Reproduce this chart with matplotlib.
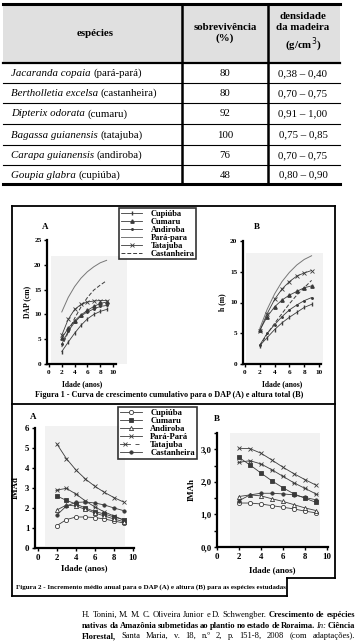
import matplotlib
matplotlib.use("Agg")
import matplotlib.pyplot as plt
from matplotlib.font_manager import FontProperties
from matplotlib.lines import Line2D
from matplotlib.patches import Rectangle
from matplotlib.legend_handler import HandlerTuple

# ---- table data ----
especies = ["Jacaranda copaia", "Bertholletia excelsa", "Dipterix odorata",
            "Bagassa guianensis", "Carapa guianensis", "Goupia glabra"]
nomes = ["(pará-pará)", "(castanheira)", "(cumaru)", "(tatajuba)", "(andiroba)", "(cupiúba)"]
sobrevivencia = [80, 80, 92, 100, 76, 48]
densidade = ["0,38 – 0,40", "0,70 – 0,75", "0,91 – 1,00", "0,75 – 0,85", "0,70 – 0,75", "0,80 – 0,90"]

# ---- figure data (idade em anos) ----
anos = [2, 3, 4, 5, 6, 7, 8, 9]
series = ["Cupiúba", "Cumaru", "Andiroba", "Pará-para", "Tatajuba", "Castanheira"]

# Figura 1A - DAP (cm)
dap_cupiuba = [2.5, 4.4, 6.2, 7.8, 9.1, 10.0, 10.6, 11.0]
dap_cumaru = [5.2, 7.2, 8.7, 9.9, 10.8, 11.6, 12.2, 12.5]
dap_andiroba = [4.0, 6.6, 8.4, 9.7, 10.5, 11.1, 11.6, 11.8]
dap_parapara = [10.5, 13.4, 15.6, 17.3, 18.6, 19.6, 20.4, 20.9]
dap_tatajuba = [5.8, 9.0, 11.0, 12.0, 12.5, 12.7, 12.8, 12.8]
dap_castanheira = [3.4, 6.4, 9.2, 11.5, 13.4, 14.9, 15.9, 16.8]

# Figura 1B - h (m)
h_cupiuba = [3.0, 4.3, 5.6, 6.7, 7.6, 8.4, 9.2, 9.7]
h_cumaru = [5.5, 7.7, 9.3, 10.4, 11.2, 11.8, 12.4, 12.7]
h_andiroba = [3.1, 5.0, 6.4, 7.7, 8.8, 9.6, 10.3, 10.8]
h_parapara = [5.8, 8.9, 11.4, 13.4, 14.9, 16.1, 17.0, 17.6]
h_tatajuba = [5.4, 8.2, 10.5, 12.2, 13.4, 14.3, 14.8, 15.2]
h_castanheira = [2.9, 4.9, 6.6, 8.2, 9.8, 11.2, 12.4, 13.6]

# Figura 2A - IMAd
imad_cupiuba = [1.12, 1.42, 1.55, 1.55, 1.52, 1.45, 1.35, 1.25]
imad_cumaru = [2.6, 2.38, 2.2, 2.0, 1.82, 1.7, 1.55, 1.42]
imad_andiroba = [1.9, 2.15, 2.1, 1.93, 1.75, 1.6, 1.45, 1.32]
imad_parapara = [5.2, 4.47, 3.9, 3.45, 3.08, 2.78, 2.52, 2.3]
imad_tatajuba = [2.9, 2.98, 2.7, 2.35, 2.05, 1.8, 1.6, 1.4]
imad_castanheira = [1.65, 2.1, 2.28, 2.3, 2.25, 2.15, 2.0, 1.87]

# Figura 2B - IMAh
imah_cupiuba = [1.35, 1.35, 1.32, 1.27, 1.22, 1.17, 1.1, 1.05]
imah_cumaru = [2.75, 2.52, 2.27, 2.03, 1.82, 1.63, 1.5, 1.37]
imah_andiroba = [1.55, 1.6, 1.57, 1.48, 1.4, 1.3, 1.2, 1.12]
imah_parapara = [3.03, 3.02, 2.88, 2.67, 2.45, 2.25, 2.07, 1.9]
imah_tatajuba = [2.6, 2.65, 2.55, 2.37, 2.17, 1.97, 1.8, 1.63]
imah_castanheira = [1.42, 1.6, 1.65, 1.65, 1.63, 1.6, 1.52, 1.45]

W, H = 357, 644
SERIF = "Liberation Serif"

fig = plt.figure(figsize=(W / 100, H / 100), dpi=100)
renderer = fig.canvas.get_renderer()


def fx(x):
    return x / W


def fy(y):
    return 1 - y / H


def fp(size, weight="normal", style="normal"):
    return FontProperties(family=SERIF, size=size, weight=weight, style=style)


def hline(y, x0, x1, lw=1.0, color="black"):
    fig.add_artist(Line2D([fx(x0), fx(x1)], [fy(y), fy(y)], color=color, lw=lw,
                          transform=fig.transFigure))


def vline(x, y0, y1, lw=1.0, color="black"):
    fig.add_artist(Line2D([fx(x), fx(x)], [fy(y0), fy(y1)], color=color, lw=lw,
                          transform=fig.transFigure))


def rect(x0, y0, x1, y1, color):
    fig.add_artist(Rectangle((fx(x0), fy(y1)), (x1 - x0) / W, (y1 - y0) / H,
                             facecolor=color, edgecolor="none",
                             transform=fig.transFigure, zorder=0))


def text_px(x, y, s, size, weight="normal", style="normal", **kw):
    return fig.text(fx(x), fy(y), s, fontproperties=fp(size, weight, style), **kw)


def width_px(s, prop):
    t = fig.text(0, 0, s, fontproperties=prop)
    w = t.get_window_extent(renderer).width
    t.remove()
    return w


def justified(segments, x0, x1, y, size):
    # spread words so the line fills x0..x1, like the justified print source
    words = []
    for s, weight, style in segments:
        for w in s.split(" "):
            words.append((w, fp(size, weight, style)))
    widths = [width_px(w, p) for w, p in words]
    gap = max((x1 - x0 - sum(widths)) / (len(words) - 1), 1.0)
    x = x0
    for (w, p), wd in zip(words, widths):
        fig.text(fx(x), fy(y), w, fontproperties=p, va="center", ha="left")
        x += wd + gap


# ---------------- table ----------------
rect(3, 4, 340, 63, "#e0e0e0")
hline(4, 3, 340, lw=2.2)
hline(63, 3, 340, lw=1.6)
row_edges = [63, 83, 103, 124, 145, 165, 184]
for y in row_edges[1:-1]:
    hline(y, 3, 340, lw=0.8)
hline(184, 3, 340, lw=2.2)
vline(182, 4, 184, lw=1.8)
vline(268, 4, 184, lw=1.8)

TS = 7.8
text_px(95, 33, "espécies", TS, "bold", ha="center", va="center")
text_px(225, 33, "sobrevivência\n(%)", TS, "bold", ha="center", va="center",
        linespacing=1.3)
text_px(303, 33, "densidade\nda madeira\n(g/cm$^3$)", TS, "bold", ha="center",
        va="center", linespacing=1.3)

for i, (esp, nome, sob, den) in enumerate(zip(especies, nomes, sobrevivencia, densidade)):
    yc = (row_edges[i] + row_edges[i + 1]) / 2 + 0.5
    w_it = width_px(esp + " ", fp(TS, style="italic"))
    text_px(11, yc, esp, TS, style="italic", ha="left", va="center")
    text_px(11 + w_it, yc, nome, TS, ha="left", va="center")
    text_px(225, yc, str(sob), TS, ha="center", va="center")
    text_px(303, yc, den, TS, ha="center", va="center")

# ---------------- figure frames ----------------
hline(206, 12, 335, lw=1.3)
vline(12, 206, 596, lw=1.3)
vline(335, 206, 578, lw=1.3)
hline(404, 12, 335, lw=1.3)
hline(578, 287, 335, lw=1.3)
hline(596, 12, 287, lw=1.3)
vline(287, 578, 596, lw=1.3)

# light grey plot areas
rect(51, 256, 127, 364, "#f2f2f2")
rect(246, 253, 323, 364, "#f2f2f2")
rect(45, 426, 125, 546, "#f2f2f2")
rect(230, 433, 320, 546, "#f2f2f2")


def axes_px(left, top, right, bottom):
    ax = fig.add_axes([fx(left), fy(bottom), (right - left) / W, (bottom - top) / H])
    ax.set_facecolor("none")
    for side in ("top", "right"):
        ax.spines[side].set_visible(False)
    for side in ("left", "bottom"):
        ax.spines[side].set_linewidth(1.6)
    ax.tick_params(direction="out", length=2.5, width=1.0, pad=1.5)
    return ax


def style_ticks(ax, size):
    for lab in ax.get_xticklabels() + ax.get_yticklabels():
        lab.set_fontproperties(fp(size, "bold"))


LC = "#3a3a3a"

# ---- Figura 1A ----
ax1 = axes_px(47, 240, 116, 364)
ax1.set_xlim(-0.31, 10.47)
ax1.set_ylim(0, 25)
ax1.set_xticks([0, 2, 4, 6, 8, 10])
ax1.set_yticks([0, 5, 10, 15, 20, 25])
ax1.plot(anos, dap_cupiuba, color=LC, lw=0.6, marker="|", ms=2.2)
ax1.plot(anos, dap_cumaru, color=LC, lw=0.6, marker="^", ms=2.4)
ax1.plot(anos, dap_andiroba, color=LC, lw=0.6, marker=".", ms=2.2)
ax1.plot(anos, dap_parapara, color="#777777", lw=0.7)
ax1.plot(anos, dap_tatajuba, color=LC, lw=0.6, marker="x", ms=2.4, mew=0.6)
ax1.plot(anos, dap_castanheira, color=LC, lw=0.7, ls=(0, (4, 2)))
style_ticks(ax1, 5.2)
ax1.set_ylabel("DAP (cm)", fontproperties=fp(5.5, "bold"), labelpad=2)
text_px(45, 227, "A", 6.5, "bold", ha="center", va="center")
text_px(82, 384, "Idade (anos)", 5.5, "bold", ha="center", va="center")

# ---- Figura 1B ----
ax2 = axes_px(243, 241, 321, 364)
ax2.set_xlim(-0.27, 10.27)
ax2.set_ylim(0, 20)
ax2.set_xticks([0, 2, 4, 6, 8, 10])
ax2.set_yticks([0, 5, 10, 15, 20])
ax2.plot(anos, h_cupiuba, color=LC, lw=0.6, marker="|", ms=2.2)
ax2.plot(anos, h_cumaru, color=LC, lw=0.6, marker="^", ms=2.4)
ax2.plot(anos, h_andiroba, color=LC, lw=0.6, marker=".", ms=2.2)
ax2.plot(anos, h_parapara, color="#777777", lw=0.7)
ax2.plot(anos, h_tatajuba, color=LC, lw=0.6, marker="x", ms=2.4, mew=0.6)
ax2.plot(anos, h_castanheira, color=LC, lw=0.7, ls=(0, (4, 2)))
style_ticks(ax2, 5.2)
ax2.set_ylabel("h (m)", fontproperties=fp(5.5, "bold"), labelpad=3)
text_px(257, 227, "B", 6.5, "bold", ha="center", va="center")
text_px(282, 384, "Idade (anos)", 5.5, "bold", ha="center", va="center")

leg1_handles = [
    Line2D([], [], color=LC, lw=0.6, marker="|", ms=2.2),
    Line2D([], [], color=LC, lw=0.6, marker="^", ms=2.4),
    Line2D([], [], color=LC, lw=0.6, marker=".", ms=2.2),
    Line2D([], [], color="#777777", lw=0.7),
    Line2D([], [], color=LC, lw=0.6, marker="x", ms=2.4, mew=0.6),
    Line2D([], [], color=LC, lw=0.7, ls=(0, (4, 2))),
]
leg1 = fig.legend(leg1_handles, series, loc="upper left",
                  bbox_to_anchor=(fx(119), fy(208)), prop=fp(6.0, "bold"),
                  frameon=True, fancybox=False, edgecolor="black",
                  borderpad=0.2, labelspacing=0.0, handlelength=2.6,
                  handletextpad=1.0, borderaxespad=0)
leg1.get_frame().set_linewidth(1.2)

text_px(35, 395, "Figura 1 - Curva de crescimento cumulativo para o DAP (A) e altura total (B)",
        5.85, "bold", ha="left", va="center")

# ---- Figura 2A ----
ax3 = axes_px(35, 428, 134, 548)
ax3.set_xlim(-0.3, 10.1)
ax3.set_ylim(0, 6)
ax3.set_xticks([0, 2, 4, 6, 8, 10])
ax3.set_yticks([0, 1, 2, 3, 4, 5, 6])
mk = dict(color=LC, lw=0.6, ms=3, mew=0.6)
ax3.plot(anos, imad_cupiuba, marker="o", mfc="white", **mk)
ax3.plot(anos, imad_cumaru, marker="s", mfc=LC, **mk)
ax3.plot(anos, imad_andiroba, marker="^", mfc="white", **mk)
ax3.plot(anos, imad_parapara, marker="x", **mk)
ax3.plot(anos, imad_tatajuba, marker="x", **mk)
ax3.plot(anos, imad_tatajuba, ls="none", marker="_", color=LC, ms=3.5, mew=0.6)
ax3.plot(anos, imad_castanheira, marker="o", mfc=LC, **{**mk, "ms": 2.4})
style_ticks(ax3, 6.3)
ax3.set_ylabel("IMAd", fontproperties=fp(6.3, "bold"), labelpad=4)
ax3.set_xlabel("Idade (anos)", fontproperties=fp(6.3, "bold"), labelpad=2)
text_px(33, 417, "A", 6.5, "bold", ha="center", va="center")

# ---- Figura 2B ----
ax4 = axes_px(217, 433, 328, 547)
ax4.set_xlim(0, 10.1)
ax4.set_ylim(0, 3.5)
ax4.set_xticks([0, 2, 4, 6, 8, 10])
ax4.set_yticks([0, 1, 2, 3])
ax4.set_yticklabels(["0,0", "1,0", "2,0", "3,0"])
ax4.set_yticks([0.5, 1.5, 2.5, 3.5], minor=True)
ax4.tick_params(which="minor", direction="out", length=2.5, width=1.0)
ax4.plot(anos, imah_cupiuba, marker="o", mfc="white", **mk)
ax4.plot(anos, imah_cumaru, marker="s", mfc=LC, **mk)
ax4.plot(anos, imah_andiroba, marker="^", mfc="white", **mk)
ax4.plot(anos, imah_parapara, marker="x", **mk)
ax4.plot(anos, imah_tatajuba, marker="x", **mk)
ax4.plot(anos, imah_tatajuba, ls="none", marker="_", color=LC, ms=3.5, mew=0.6)
ax4.plot(anos, imah_castanheira, marker="o", mfc=LC, **{**mk, "ms": 2.4})
style_ticks(ax4, 6.3)
ax4.set_ylabel("IMAh", fontproperties=fp(6.3, "bold"), labelpad=3)
ax4.set_xlabel("Idade (anos)", fontproperties=fp(6.3, "bold"), labelpad=4)
text_px(217, 419, "B", 6.5, "bold", ha="center", va="center")

tata = (Line2D([], [], marker="x", **mk),
        Line2D([], [], ls="none", marker="_", color=LC, ms=3.5, mew=0.6))
leg2_handles = [
    Line2D([], [], marker="o", mfc="white", **mk),
    Line2D([], [], marker="s", mfc=LC, **mk),
    Line2D([], [], marker="^", mfc="white", **mk),
    Line2D([], [], marker="x", **mk),
    tata,
    Line2D([], [], marker="o", mfc=LC, **{**mk, "ms": 2.4}),
]
labels2 = ["Cupiúba", "Cumaru", "Andiroba", "Pará-Pará", "Tatajuba", "Castanheira"]
leg2 = fig.legend(leg2_handles, labels2, loc="upper left",
                  bbox_to_anchor=(fx(118), fy(407)), prop=fp(6.2, "bold"),
                  frameon=True, fancybox=False, edgecolor="black",
                  borderpad=0.25, labelspacing=0.0, handlelength=2.5,
                  handletextpad=1.0, borderaxespad=0,
                  handler_map={tuple: HandlerTuple(ndivide=None)})
leg2.get_frame().set_linewidth(1.2)

text_px(16, 587, "Figura 2 - Incremento médio anual para o DAP (A) e altura (B) para as espécies estudadas",
        5.05, "bold", ha="left", va="center")

# ---------------- citation ----------------
CS = 6.15
justified([("H. Tonini, M. M. C. Oliveira Junior e D. Schwengber.", "normal", "normal"),
           ("Crescimento de espécies", "bold", "normal")], 82, 355, 615, CS)
justified([("nativas da Amazônia submetidas ao plantio no estado de Roraima.", "bold", "normal"),
           ("In:", "normal", "italic"), ("Ciência", "bold", "normal")], 82, 355, 625.5, CS)
justified([("Florestal,", "bold", "normal"),
           ("Santa Maria, v. 18, n.º 2, p. 151-8, 2008 (com adaptações).", "normal", "normal")],
          82, 355, 636, CS)

fig.savefig("out.png", dpi=100)
